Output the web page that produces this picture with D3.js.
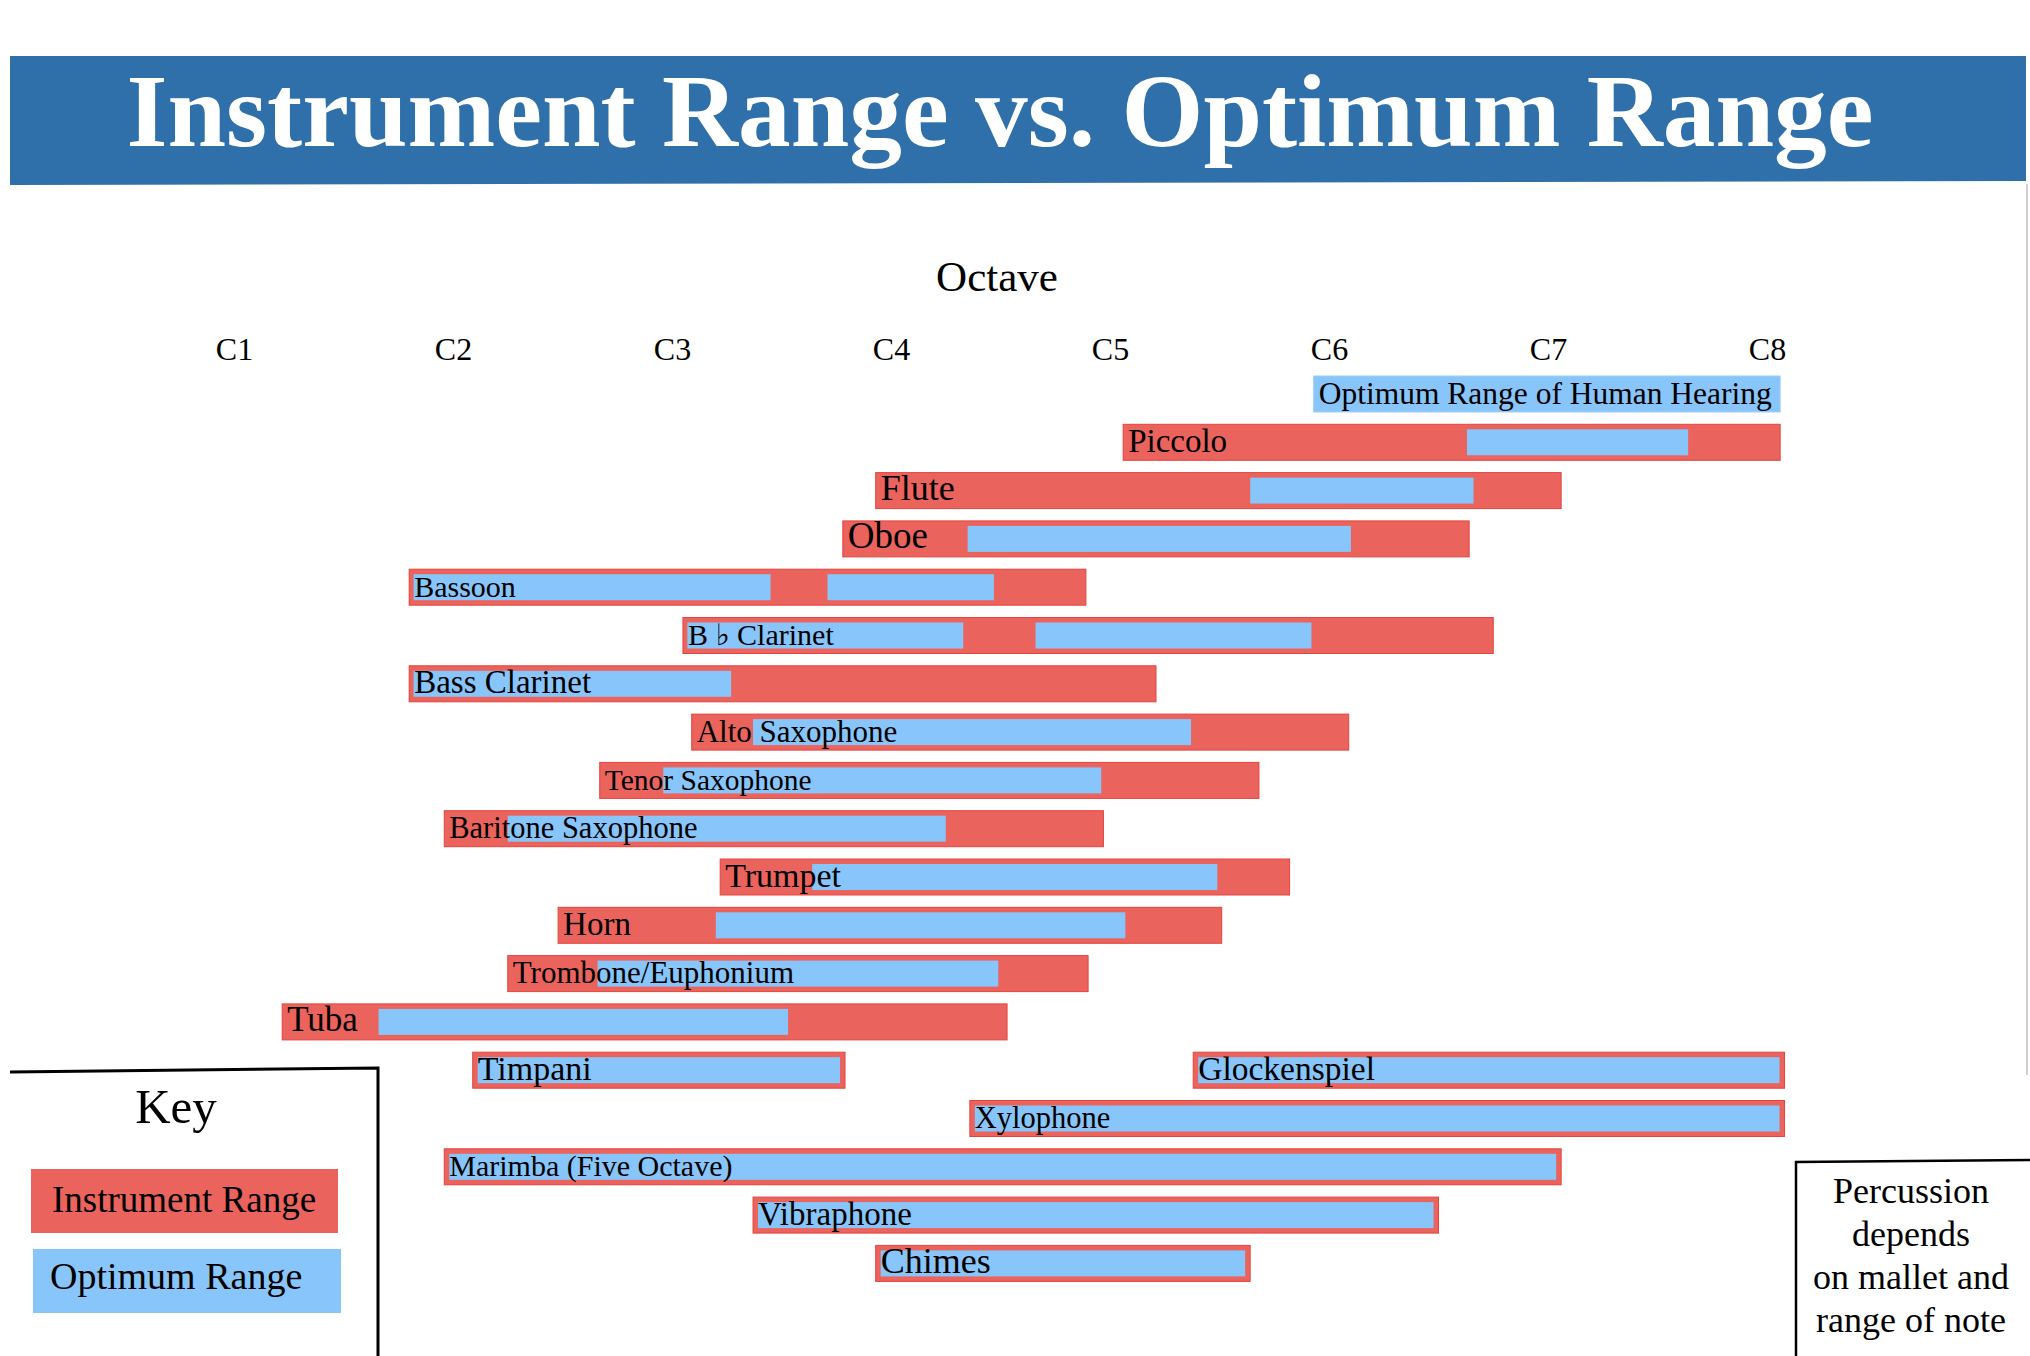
<!DOCTYPE html>
<html>
<head>
<meta charset="utf-8">
<script src="https://cdnjs.cloudflare.com/ajax/libs/d3/7.8.5/d3.min.js"></script>
<style>
  body { margin: 0; background: #fff; }
  text { font-family: "Liberation Serif", "Times New Roman", "DejaVu Serif", serif; }
</style>
</head>
<body>
<div id="chart"></div>
<script>
// Octave ticks (C1 ... C8)
var octaves = [1, 2, 3, 4, 5, 6, 7, 8];

// Wind / brass instruments, top to bottom (values in octaves, C1 = 1)
var winds = ["Piccolo", "Flute", "Oboe", "Bassoon", "B \u266D Clarinet", "Bass Clarinet",
  "Alto Saxophone", "Tenor Saxophone", "Baritone Saxophone", "Trumpet", "Horn",
  "Trombone/Euphonium", "Tuba"];
var windLow  = [5.06, 3.93, 3.78, 1.80, 3.05, 1.80, 3.09, 2.67, 1.96, 3.22, 2.48, 2.25, 1.22];
var windHigh = [8.06, 7.06, 6.64, 4.89, 6.75, 5.21, 6.09, 5.68, 4.97, 5.82, 5.51, 4.90, 4.53];

// Optimum range of each wind instrument (some have two pieces)
var windOptimum = [
  [[6.63, 7.64]],
  [[5.64, 6.66]],
  [[4.35, 6.10]],
  [[1.82, 3.45], [3.71, 4.47]],
  [[3.07, 4.33], [4.66, 5.92]],
  [[1.82, 3.27]],
  [[3.37, 5.37]],
  [[2.96, 4.96]],
  [[2.25, 4.25]],
  [[3.64, 5.49]],
  [[3.20, 5.07]],
  [[2.66, 4.49]],
  [[1.66, 3.53]]
];

// Percussion ranges
var percussion = ["Timpani", "Glockenspiel", "Xylophone", "Marimba (Five Octave)", "Vibraphone", "Chimes"];
var percLow  = [2.09, 5.38, 4.36, 1.96, 3.37, 3.93];
var percHigh = [3.79, 8.08, 8.08, 7.06, 6.50, 5.64];

// Optimum range of human hearing
var hearingLabel = "Optimum Range of Human Hearing";
var hearingRange = [5.93, 8.06];

// Colours
var red = "#ea635c";
var redEdge = "#e5443e";
var blue = "#88c5fa";
var banner = "#3070aa";

// Label font sizes (the original uses a mix of sizes)
var labelSize = {
  "Piccolo": 33, "Flute": 36, "Oboe": 37, "Bassoon": 30, "B \u266D Clarinet": 30,
  "Bass Clarinet": 33, "Alto Saxophone": 31, "Tenor Saxophone": 29.5,
  "Baritone Saxophone": 30.5, "Trumpet": 34, "Horn": 33, "Trombone/Euphonium": 31,
  "Tuba": 35, "Timpani": 34, "Glockenspiel": 33.5, "Xylophone": 30.5,
  "Marimba (Five Octave)": 30, "Vibraphone": 33, "Chimes": 36
};
labelSize[hearingLabel] = 31.5;

var svgWidth = 2030;
var svgHeight = 1356;

var svg = d3.select("#chart")
  .append("svg")
  .attr("width", svgWidth)
  .attr("height", svgHeight);

// Title banner
svg.append("polygon")
  .attr("points", "10,56 2026,56 2026,181 10,185")
  .attr("fill", banner);

svg.append("text")
  .attr("x", 1000)
  .attr("y", 146)
  .attr("text-anchor", "middle")
  .attr("font-size", 104)
  .attr("font-weight", "bold")
  .attr("fill", "#fff")
  .attr("textLength", 1747)
  .attr("lengthAdjust", "spacingAndGlyphs")
  .text("Instrument Range vs. Optimum Range");

// faint right edge line under the banner
svg.append("line")
  .attr("x1", 2027).attr("x2", 2027)
  .attr("y1", 184).attr("y2", 1075)
  .attr("stroke", "#d0d0d0")
  .attr("stroke-width", 2);

// Scales
var x = d3.scaleLinear()
  .domain([1, 8])
  .range([234, 1767]);

// one row per bar; Glockenspiel shares the Timpani row
var rows = [hearingLabel].concat(winds, ["Timpani", "Xylophone", "Marimba (Five Octave)", "Vibraphone", "Chimes"]);
function rowOf(name) { return name === "Glockenspiel" ? "Timpani" : name; }

var y = d3.scaleBand()
  .domain(rows)
  .range([376, 1281.4])
  .paddingInner(0.2547);

var bh = y.bandwidth();

// Axis label and octave ticks
svg.append("text")
  .attr("x", 997)
  .attr("y", 291)
  .attr("text-anchor", "middle")
  .attr("font-size", 43)
  .attr("fill", "#000")
  .text("Octave");

var topAxis = d3.axisTop(x)
  .tickValues(octaves)
  .tickFormat(function (d) { return "C" + d; })
  .tickSize(0)
  .tickPadding(0);

var axisG = svg.append("g")
  .attr("transform", "translate(0, 360)")
  .call(topAxis);

axisG.select(".domain").remove();
axisG.selectAll("text")
  .attr("font-size", 32)
  .attr("fill", "#000");

// Human hearing bar
svg.append("rect")
  .attr("x", x(hearingRange[0]))
  .attr("y", y(hearingLabel))
  .attr("width", x(hearingRange[1]) - x(hearingRange[0]))
  .attr("height", bh)
  .attr("fill", blue)
  .attr("stroke", "#9ccffb")
  .attr("stroke-width", 1);

// Wind bars
var windData = winds.map(function (name, i) {
  return { name: name, low: windLow[i], high: windHigh[i], opt: windOptimum[i] };
});

var windG = svg.selectAll(".wind")
  .data(windData)
  .enter()
  .append("g")
  .attr("class", "wind");

windG.append("rect")
  .attr("x", function (d) { return x(d.low); })
  .attr("y", function (d) { return y(d.name); })
  .attr("width", function (d) { return x(d.high) - x(d.low); })
  .attr("height", bh)
  .attr("fill", red)
  .attr("stroke", redEdge)
  .attr("stroke-width", 1);

windG.selectAll(".opt")
  .data(function (d) {
    return d.opt.map(function (s) { return { name: d.name, lo: s[0], hi: s[1] }; });
  })
  .enter()
  .append("rect")
  .attr("class", "opt")
  .attr("x", function (d) { return x(d.lo); })
  .attr("y", function (d) { return y(d.name) + 5; })
  .attr("width", function (d) { return x(d.hi) - x(d.lo); })
  .attr("height", bh - 10)
  .attr("fill", blue);

// Percussion bars (red outline, blue inside)
var percData = percussion.map(function (name, i) {
  return { name: name, low: percLow[i], high: percHigh[i] };
});

var percG = svg.selectAll(".perc")
  .data(percData)
  .enter()
  .append("g")
  .attr("class", "perc");

percG.append("rect")
  .attr("x", function (d) { return x(d.low); })
  .attr("y", function (d) { return y(rowOf(d.name)); })
  .attr("width", function (d) { return x(d.high) - x(d.low); })
  .attr("height", bh)
  .attr("fill", red)
  .attr("stroke", redEdge)
  .attr("stroke-width", 1);

percG.append("rect")
  .attr("x", function (d) { return x(d.low) + 5; })
  .attr("y", function (d) { return y(rowOf(d.name)) + 5; })
  .attr("width", function (d) { return x(d.high) - x(d.low) - 10; })
  .attr("height", bh - 10)
  .attr("fill", blue);

// Bar labels
var labels = [{ name: hearingLabel, low: hearingRange[0] }]
  .concat(windData, percData);

svg.selectAll(".barLabel")
  .data(labels)
  .enter()
  .append("text")
  .attr("class", "barLabel")
  .attr("x", function (d) { return x(d.low) + 5; })
  .attr("y", function (d) { return y(rowOf(d.name)) + 27.5; })
  .attr("font-size", function (d) { return labelSize[d.name]; })
  .attr("fill", "#000")
  .text(function (d) { return d.name; });

// Key
svg.append("path")
  .attr("d", "M10,1072 L378,1068 L378,1356")
  .attr("fill", "none")
  .attr("stroke", "#000")
  .attr("stroke-width", 3);

svg.append("text")
  .attr("x", 176)
  .attr("y", 1123)
  .attr("text-anchor", "middle")
  .attr("font-size", 49)
  .attr("fill", "#000")
  .text("Key");

svg.append("rect")
  .attr("x", 31).attr("y", 1169)
  .attr("width", 307).attr("height", 64)
  .attr("fill", red);

svg.append("text")
  .attr("x", 52).attr("y", 1212)
  .attr("font-size", 37)
  .attr("fill", "#000")
  .text("Instrument Range");

svg.append("rect")
  .attr("x", 33).attr("y", 1249)
  .attr("width", 308).attr("height", 64)
  .attr("fill", blue);

svg.append("text")
  .attr("x", 50).attr("y", 1289)
  .attr("font-size", 38)
  .attr("fill", "#000")
  .text("Optimum Range");

// Percussion note
svg.append("path")
  .attr("d", "M1796,1356 L1796,1162 L2030,1160")
  .attr("fill", "none")
  .attr("stroke", "#000")
  .attr("stroke-width", 2.5);

var noteLines = ["Percussion", "depends", "on mallet and", "range of note"];
svg.selectAll(".note")
  .data(noteLines)
  .enter()
  .append("text")
  .attr("class", "note")
  .attr("x", 1911)
  .attr("y", function (d, i) { return 1203 + i * 43; })
  .attr("text-anchor", "middle")
  .attr("font-size", 36)
  .attr("fill", "#000")
  .text(function (d) { return d; });
</script>
</body>
</html>
